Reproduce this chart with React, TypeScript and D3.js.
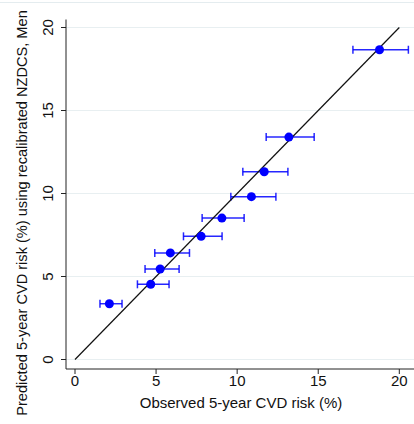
import * as d3 from "d3";

// observed risk (%), predicted risk (%), observed CI bounds
const observed = [2.12, 4.67, 5.25, 5.88, 7.78, 9.06, 10.88, 11.67, 13.19, 18.78];
const predicted = [3.36, 4.53, 5.45, 6.42, 7.42, 8.52, 9.81, 11.31, 13.4, 18.66];
const ciLow = [1.54, 3.85, 4.32, 4.92, 6.69, 7.84, 9.61, 10.35, 11.79, 17.14];
const ciHigh = [2.9, 5.8, 6.42, 7.06, 9.07, 10.43, 12.39, 13.13, 14.75, 20.56];
const ticks = [0, 5, 10, 15, 20];

const W = 414;
const H = 424;
const font = "'Liberation Sans', Arial, sans-serif";
const blue = "#0000ff";

export default function App() {
  const x = d3.scaleLinear().domain([0, 20]).range([75, 399.3]);
  const y = d3.scaleLinear().domain([0, 20]).range([359.5, 27.5]);
  const axisX = 66;
  const axisY = 369;

  return (
    <div style={{ position: "fixed", left: 0, top: 0 }}>
      <svg width={W} height={H} style={{ display: "block", background: "#fff" }}>
        {/* faint outer frame */}
        <line x1={0} x2={W} y1={2.5} y2={2.5} stroke="#e4ecef" strokeWidth={1} />

        {/* gridlines */}
        {ticks.map((t) => (
          <line key={"g" + t} x1={axisX} x2={W} y1={y(t)} y2={y(t)} stroke="#e8eff1" strokeWidth={1} />
        ))}

        {/* axes */}
        <line x1={axisX} x2={axisX} y1={y(20) - 8} y2={axisY} stroke="#222" strokeWidth={1} />
        <line x1={axisX} x2={W} y1={axisY} y2={axisY} stroke="#222" strokeWidth={1} />

        {ticks.map((t) => (
          <g key={"yt" + t}>
            <line x1={axisX - 5} x2={axisX} y1={y(t)} y2={y(t)} stroke="#222" />
            <text
              transform={`translate(53,${y(t)}) rotate(-90)`}
              textAnchor="middle"
              fontFamily={font}
              fontSize={15}
              fill="#111"
            >
              {t}
            </text>
          </g>
        ))}
        {ticks.map((t) => (
          <g key={"xt" + t}>
            <line x1={x(t)} x2={x(t)} y1={axisY} y2={axisY + 5} stroke="#222" />
            <text x={x(t)} y={386} textAnchor="middle" fontFamily={font} fontSize={15} fill="#111">
              {t}
            </text>
          </g>
        ))}

        {/* titles */}
        <text x={241} y={408} textAnchor="middle" fontFamily={font} fontSize={15} fill="#111">
          Observed 5-year CVD risk (%)
        </text>
        <text
          transform={`translate(27,213) rotate(-90)`}
          textAnchor="middle"
          fontFamily={font}
          fontSize={14.6}
          fill="#111"
        >
          Predicted 5-year CVD risk (%) using recalibrated NZDCS, Men
        </text>

        {/* error bars */}
        {observed.map((_, i) => (
          <g key={"e" + i} stroke={blue} strokeWidth={1.5} strokeOpacity={0.85}>
            <line x1={x(ciLow[i])} x2={x(ciHigh[i])} y1={y(predicted[i])} y2={y(predicted[i])} />
            <line x1={x(ciLow[i])} x2={x(ciLow[i])} y1={y(predicted[i]) - 4} y2={y(predicted[i]) + 4} />
            <line x1={x(ciHigh[i])} x2={x(ciHigh[i])} y1={y(predicted[i]) - 4} y2={y(predicted[i]) + 4} />
          </g>
        ))}

        {/* identity line */}
        <line x1={x(0)} y1={y(0)} x2={x(20)} y2={y(20)} stroke="#111" strokeWidth={1.2} />

        {/* points */}
        {observed.map((o, i) => (
          <circle key={"p" + i} cx={x(o)} cy={y(predicted[i])} r={4.5} fill={blue} />
        ))}
      </svg>
    </div>
  );
}
